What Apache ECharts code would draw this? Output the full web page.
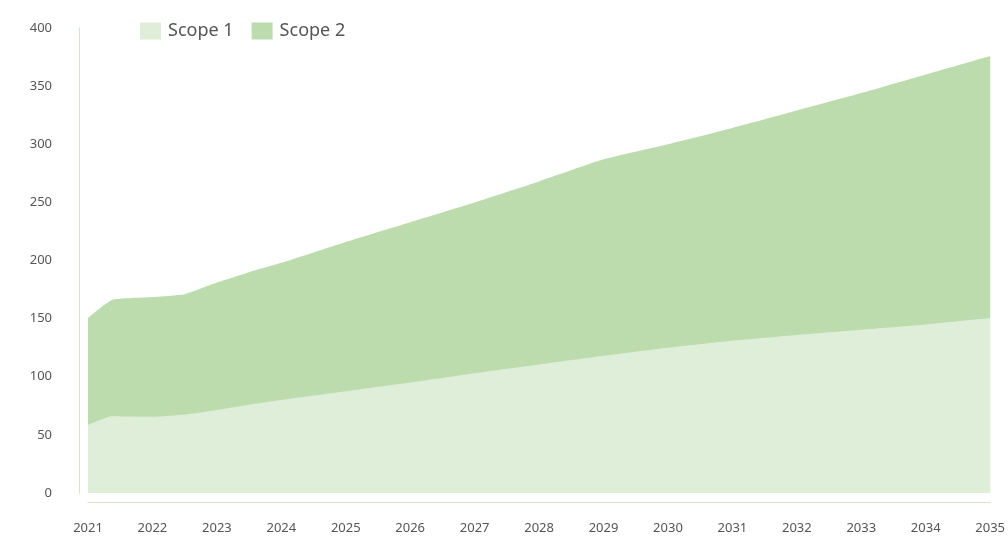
<!DOCTYPE html>
<html>
<head>
<meta charset="utf-8">
<script src="https://cdn.jsdelivr.net/npm/echarts@6/dist/echarts.min.js"></script>
<style>
html,body{margin:0;padding:0;background:#fff;}
#chart{width:1008px;height:536px;}
</style>
</head>
<body>
<div id="chart"></div>
<script>
// Data points (x = year, fractional where the curve has a break)
var years = [2021, 2021.37, 2022, 2022.5, 2023, 2023.5, 2024, 2025, 2026, 2027, 2028, 2029, 2030, 2031, 2032, 2033, 2034, 2035];
var scope1 = [58.5, 66, 65.5, 67.5, 71.5, 76, 80, 87.5, 95, 103, 110.5, 118, 125, 131, 136, 140.5, 145, 150.5];
var scope2 = [92, 100, 103, 103.5, 109.5, 114, 118, 128.5, 138, 147, 157.5, 169, 175, 183, 193, 203.5, 215, 225.5];
var seriesNames = ['Scope 1', 'Scope 2'];
var yTicks = {min: 0, max: 400, step: 50};
var xTicks = {min: 2021, max: 2035, step: 1};

// Stack manually: Scope 2 area sits on top of Scope 1
var scope1Pts = years.map(function (y, i) { return [y, scope1[i]]; });
var stackedTop = years.map(function (y, i) { return [y, scope1[i] + scope2[i]]; });

var chart = echarts.init(document.getElementById('chart'), null, {renderer: 'canvas'});
var axisLineStyle = {color: '#c9e3bd', type: 'dotted', width: 1};
var font = '"Noto Sans", "Open Sans", sans-serif';

chart.setOption({
  animation: false,
  backgroundColor: '#ffffff',
  grid: {left: 88, right: 15, top: 28, bottom: 43},
  legend: {
    left: 135, top: 17,
    itemWidth: 21, itemHeight: 17, itemGap: 18,
    icon: 'rect',
    textStyle: {fontSize: 18, color: '#555', fontFamily: font, padding: [0, 0, 0, 2]},
    data: seriesNames
  },
  xAxis: {
    type: 'value',
    min: xTicks.min, max: xTicks.max, interval: xTicks.step,
    offset: 9,
    axisLine: {show: true, onZero: false, lineStyle: axisLineStyle},
    axisTick: {show: false},
    splitLine: {show: false},
    axisLabel: {
      margin: 20, fontSize: 13, color: '#555', fontFamily: font,
      formatter: function (v) { return String(v); }
    }
  },
  yAxis: {
    type: 'value',
    min: yTicks.min, max: yTicks.max, interval: yTicks.step,
    offset: 9,
    axisLine: {show: true, onZero: false, lineStyle: axisLineStyle},
    axisTick: {show: false},
    splitLine: {show: false},
    axisLabel: {margin: 27, fontSize: 13, color: '#555', fontFamily: font}
  },
  series: [
    {
      name: seriesNames[1], type: 'line',
      data: stackedTop,
      smooth: 0.15,
      showSymbol: false, symbol: 'none',
      lineStyle: {width: 0},
      itemStyle: {color: '#bcdcae'},
      areaStyle: {color: '#bcdcae', opacity: 1},
      z: 2
    },
    {
      name: seriesNames[0], type: 'line',
      data: scope1Pts,
      smooth: 0.15,
      showSymbol: false, symbol: 'none',
      lineStyle: {width: 0},
      itemStyle: {color: '#dfeed9'},
      areaStyle: {color: '#dfeed9', opacity: 1},
      z: 3
    }
  ]
});
</script>
</body>
</html>
